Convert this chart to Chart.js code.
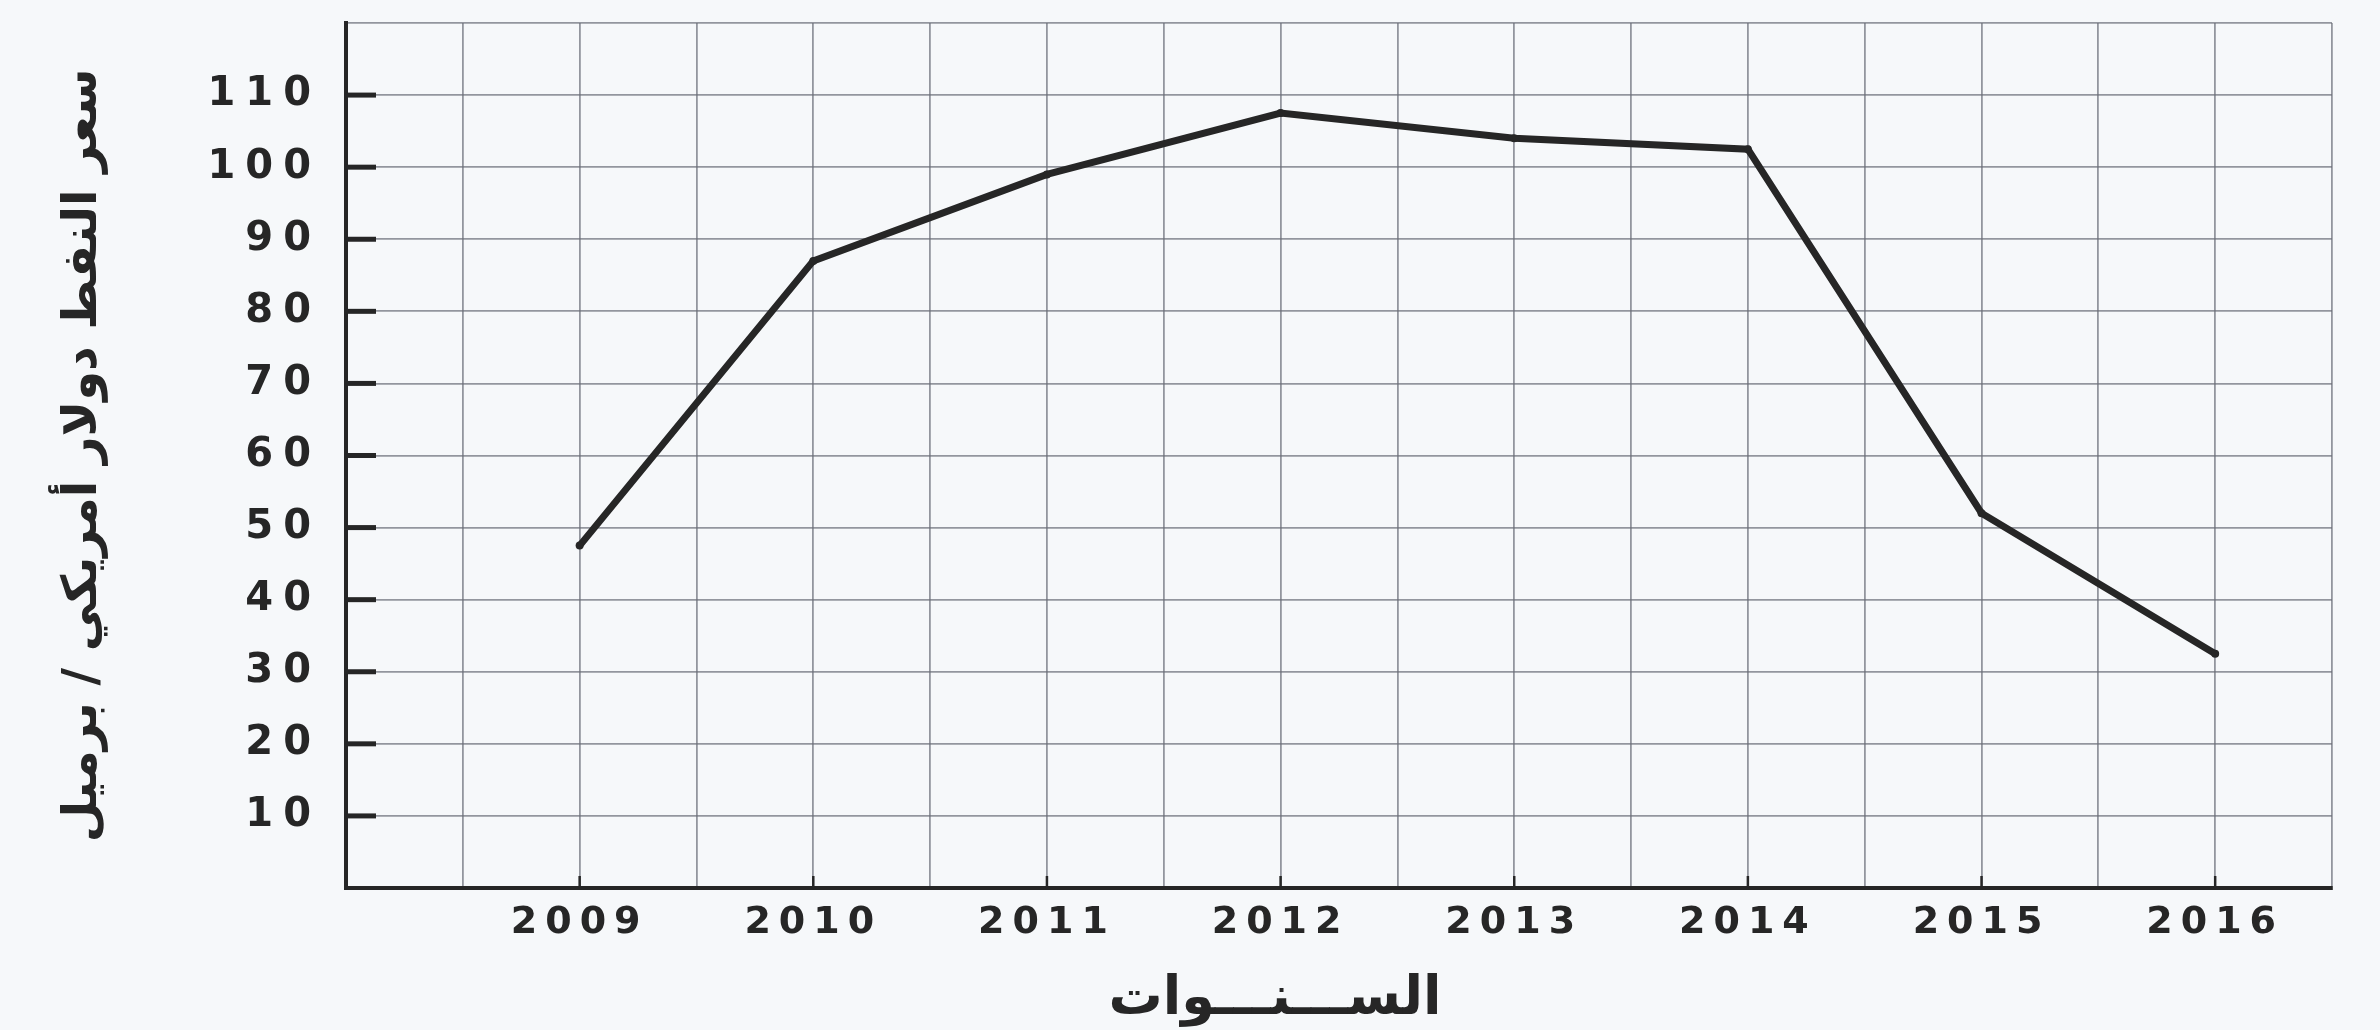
<!DOCTYPE html>
<html>
<head>
<meta charset="utf-8">
<style>
  html, body { margin: 0; padding: 0; background: #f6f8fa; }
  #wrap { width: 2380px; height: 1030px; }
</style>
</head>
<body>
<div id="wrap">
  <canvas id="oil-chart"></canvas>
</div>

<script src="https://cdn.jsdelivr.net/npm/chart.js"></script>

<script>
  // oil price per barrel, 2009 - 2016
  const years = [2009, 2010, 2011, 2012, 2013, 2014, 2015, 2016]
  const prices = [47.5, 87, 99, 107.5, 104, 102.5, 52, 32.5]
  const yTickLabels = [10, 20, 30, 40, 50, 60, 70, 80, 90, 100, 110]
  const xTickLabels = years
  const yTitle = 'سعر النفط دولار أمريكي / برميل'
  const xTitle = 'الســـنـــوات'

  const ink = '#262626'
  const gridColor = 'rgba(105, 108, 118, 0.7)'

  // wider spaced digits like the printed figure + nudge x title
  const styleScales = {
    id: 'styleScales',
    beforeDraw(chart) {
      Object.values(chart.scales).forEach(scale => {
        if (scale._patched) return
        const drawLabels = scale.drawLabels
        const spacing = scale.axis === 'x' ? '8px' : '10px'
        scale.drawLabels = function (area) {
          this.ctx.save()
          this.ctx.letterSpacing = spacing
          drawLabels.call(this, area)
          this.ctx.restore()
        }
        if (scale.axis === 'x') {
          const drawTitle = scale.drawTitle
          scale.drawTitle = function () {
            this.ctx.save()
            this.ctx.translate(-64, 0)
            drawTitle.call(this)
            this.ctx.restore()
          }
        }
        scale._patched = true
      })
    },
    afterDraw(chart) {
      const {ctx, scales: {x, y}} = chart
      ctx.save()
      ctx.strokeStyle = ink
      ctx.lineWidth = 5
      yTickLabels.forEach(v => {
        const py = y.getPixelForValue(v)
        ctx.beginPath()
        ctx.moveTo(x.left, py)
        ctx.lineTo(x.left + 30, py)
        ctx.stroke()
      })
      ctx.lineWidth = 2.5
      xTickLabels.forEach(v => {
        const px = x.getPixelForValue(v)
        ctx.beginPath()
        ctx.moveTo(px, y.bottom)
        ctx.lineTo(px, y.bottom - 12)
        ctx.stroke()
      })
      ctx.restore()
    }
  }

  const ctx = document.getElementById('oil-chart').getContext('2d')
  const chart = new Chart(ctx, {
    type: 'line',
    data: {
      datasets: [{
        label: yTitle,
        data: years.map((yr, i) => ({x: yr, y: prices[i]})),
        borderColor: ink,
        backgroundColor: ink,
        borderWidth: 7,
        pointRadius: 4,
        pointBorderWidth: 0,
        tension: 0,
      }]
    },
    options: {
      responsive: true,
      maintainAspectRatio: false,
      animation: false,
      layout: {padding: {left: 0, top: 23, right: 48, bottom: 0}},
      plugins: {
        legend: {display: false},
        tooltip: {enabled: false},
      },
      scales: {
        x: {
          type: 'linear',
          min: 2008,
          max: 2016.5,
          afterFit: s => { s.height = 142; s.paddingLeft = 0; s.paddingRight = 0 },
          grid: {color: gridColor, lineWidth: 1.8, drawTicks: false},
          border: {color: ink, width: 4},
          ticks: {
            stepSize: 0.5,
            autoSkip: false,
            maxRotation: 0,
            padding: 16,
            color: ink,
            font: {family: 'DejaVu Sans', weight: 'bold', size: 38, lineHeight: 1},
            callback: v => xTickLabels.includes(v) ? String(v) : '',
          },
          title: {
            display: true,
            text: xTitle,
            color: ink,
            font: {family: 'DejaVu Sans', weight: 'bold', size: 54, lineHeight: 1.1},
            padding: {top: 0, bottom: 0},
          },
        },
        y: {
          min: 0,
          max: 120,
          afterFit: s => { s.width = 346; s.paddingTop = 0; s.paddingBottom = 0 },
          grid: {color: gridColor, lineWidth: 1.8, drawTicks: false},
          border: {color: ink, width: 4},
          ticks: {
            stepSize: 10,
            padding: 25,
            color: ink,
            font: {family: 'DejaVu Sans', weight: 'bold', size: 40, lineHeight: 1},
            callback: v => yTickLabels.includes(v) ? String(v) : '',
          },
          title: {
            display: true,
            text: yTitle,
            color: ink,
            font: {family: 'DejaVu Sans', weight: 'bold', size: 48, lineHeight: 1.2},
            padding: {top: 55, bottom: 0},
          },
        },
      },
    },
    plugins: [styleScales],
  })
</script>
</body>
</html>
